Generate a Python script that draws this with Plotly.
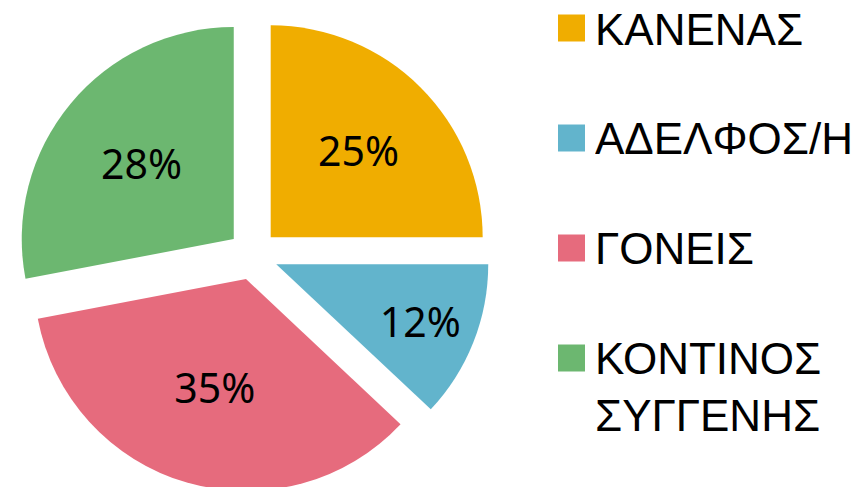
import plotly.graph_objects as go

labels = ["ΚΑΝΕΝΑΣ", "ΑΔΕΛΦΟΣ/Η", "ΓΟΝΕΙΣ", "ΚΟΝΤΙΝΟΣ ΣΥΓΓΕΝΗΣ"]
legend_text = ["ΚΑΝΕΝΑΣ", "ΑΔΕΛΦΟΣ/Η", "ΓΟΝΕΙΣ", "ΚΟΝΤΙΝΟΣ<br>ΣΥΓΓΕΝΗΣ"]
values = [25, 12, 35, 28]
colors = ["#F0AD00", "#62B4CC", "#E66B7D", "#6CB770"]

W, H = 861, 487
OFF = 8  # page body margin offset
FONT = "Noto Sans"
LEG_FONT = "Liberation Sans"

fig = go.Figure(go.Pie(
    labels=labels,
    values=values,
    sort=False,
    direction="clockwise",
    rotation=0,
    pull=[0.118] * len(values),
    marker=dict(colors=colors, line=dict(width=0)),
    textinfo="percent",
    textposition="inside",
    insidetextorientation="horizontal",
    textfont=dict(family=FONT, size=41, color="black"),
    domain=dict(x=[0, 490 / W], y=[1 - 484 / H, 1 - 10 / H]),
    showlegend=False,
    hoverinfo="label+percent",
))

# manual legend (large square keys like the reference)
row_centers = [29, 138, 248, 386.5]
square_centers = [28, 138, 248, 358]
box_heights = [36, 36, 36, 92]
shapes = []
annotations = []
for i, (txt, col) in enumerate(zip(legend_text, colors)):
    sc = square_centers[i] - OFF
    rc = row_centers[i] - OFF
    shapes.append(dict(type="rect", xref="paper", yref="paper",
                       x0=(558 - OFF) / W, x1=(585 - OFF) / W,
                       y0=1 - (sc + 13.5) / H, y1=1 - (sc - 13.5) / H,
                       fillcolor=col, line=dict(width=0)))
    annotations.append(dict(xref="paper", yref="paper", x=(594 - OFF) / W, y=1 - rc / H,
                            xanchor="left", yanchor="middle", align="left", valign="middle",
                            height=box_heights[i], borderpad=0,
                            text=txt, showarrow=False,
                            font=dict(family=LEG_FONT, size=44, color="black")))

fig.update_layout(
    width=W, height=H,
    margin=dict(l=0, r=0, t=0, b=0),
    paper_bgcolor="white",
    plot_bgcolor="white",
    shapes=shapes,
    annotations=annotations,
)

fig.write_html("out.html")
